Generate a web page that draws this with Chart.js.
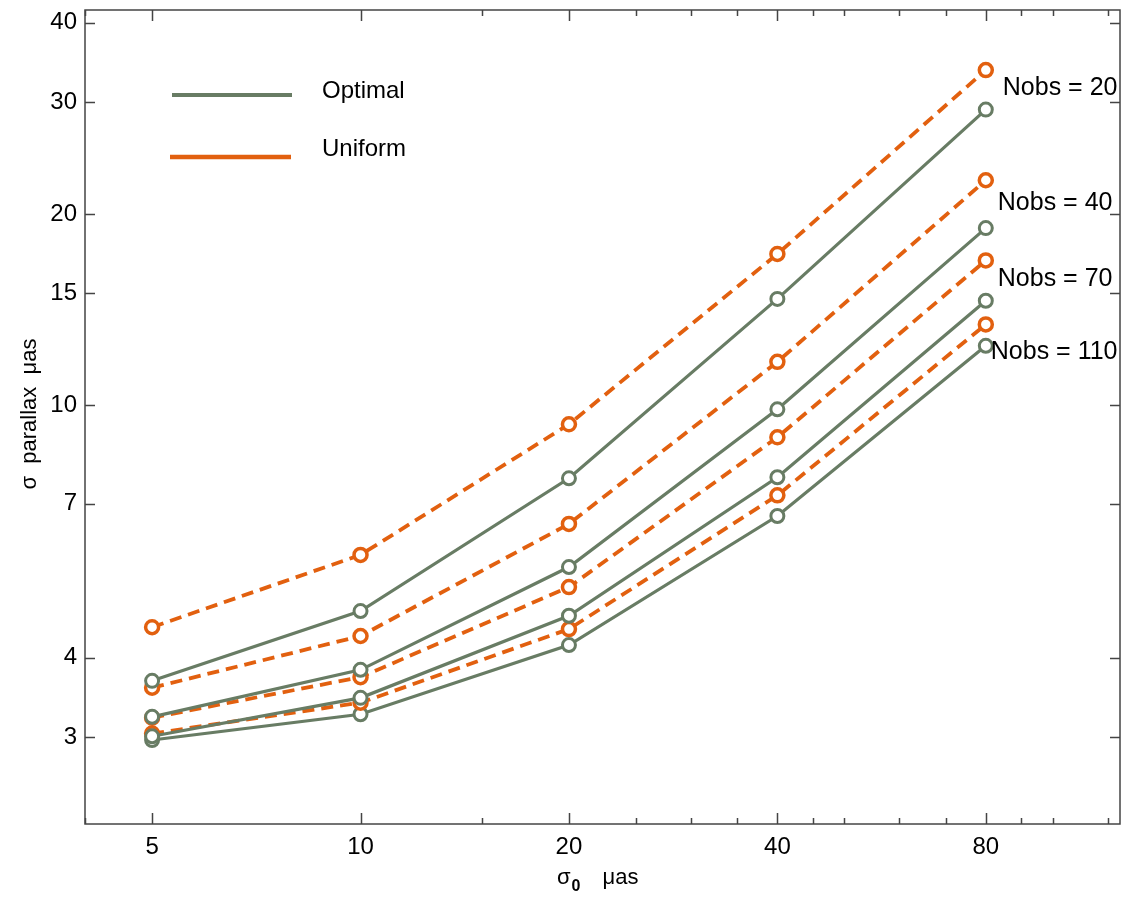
<!DOCTYPE html>
<html>
<head>
<meta charset="utf-8">
<script src="https://cdn.jsdelivr.net/npm/chart.js@4.4.0/dist/chart.umd.min.js"></script>
<style>
  html, body { margin: 0; padding: 0; background: #fff; }
  canvas { display: block; }
</style>
</head>
<body>
<canvas id="chart" width="1133" height="898"></canvas>
<script>
// ── Datos ──
const sigma0 = [5, 10, 20, 40, 80];
const nobsList = [20, 40, 70, 110];

const optimal20  = [3.68, 4.74, 7.67, 14.7, 29.2];
const uniform20  = [4.47, 5.81, 9.33, 17.3, 33.7];
const optimal40  = [3.23, 3.83, 5.56, 9.85, 19.0];
const uniform40  = [3.59, 4.33, 6.50, 11.7, 22.6];
const optimal70  = [3.01, 3.46, 4.66, 7.70, 14.6];
const uniform70  = [3.22, 3.73, 5.17, 8.90, 16.9];
const optimal110 = [2.97, 3.26, 4.19, 6.69, 12.4];
const uniform110 = [3.04, 3.40, 4.44, 7.21, 13.4];

const xTicks  = [4, 5, 10, 15, 20, 25, 30, 35, 40, 45, 50, 60, 70, 80, 90, 100, 120];
const xLabels = [5, 10, 20, 40, 80];
const yTicks  = [3, 4, 7, 10, 15, 20, 30, 40];
const nobsLabelY = [30.8, 20.3, 15.4, 11.8];

const GREEN  = '#687c64';
const ORANGE = '#e2600f';
const AXIS   = '#444';
const FONT   = "'Liberation Sans', Arial, sans-serif";

Chart.defaults.font.family = FONT;
Chart.defaults.color = '#000';

const toXY = arr => sigma0.map((x, i) => ({ x, y: arr[i] }));

function optimalSet(arr) {
  return {
    data: toXY(arr),
    borderColor: GREEN,
    borderWidth: 3.2,
    pointRadius: 6.5,
    pointBorderWidth: 3,
    pointBorderColor: GREEN,
    pointBackgroundColor: '#fff',
    fill: false,
    tension: 0
  };
}
function uniformSet(arr) {
  return {
    data: toXY(arr),
    borderColor: ORANGE,
    borderWidth: 3.8,
    borderDash: [12, 7],
    pointRadius: 6.5,
    pointBorderWidth: 3.5,
    pointBorderColor: ORANGE,
    pointBackgroundColor: '#fff',
    fill: false,
    tension: 0
  };
}

// ── Marco, ticks interiores, leyenda y textos ──
const framePlugin = {
  id: 'frame',
  beforeDatasetsDraw(chart) {
    const { ctx, chartArea: a, scales: { x, y } } = chart;
    ctx.save();
    ctx.strokeStyle = AXIS;
    ctx.lineWidth = 1.5;
    ctx.strokeRect(a.left, a.top, a.right - a.left, a.bottom - a.top);
    ctx.beginPath();
    xTicks.forEach(v => {
      const px = Math.round(x.getPixelForValue(v)) + 0.5;
      const len = xLabels.includes(v) ? 11 : 6;
      ctx.moveTo(px, a.bottom); ctx.lineTo(px, a.bottom - len);
      ctx.moveTo(px, a.top);    ctx.lineTo(px, a.top + len);
    });
    yTicks.forEach(v => {
      const py = Math.round(y.getPixelForValue(v)) + 0.5;
      ctx.moveTo(a.left, py);  ctx.lineTo(a.left + 10, py);
      ctx.moveTo(a.right, py); ctx.lineTo(a.right - 10, py);
    });
    ctx.stroke();
    ctx.restore();
  },
  afterDraw(chart) {
    const { ctx, scales: { x, y } } = chart;
    ctx.save();

    // leyenda
    ctx.lineWidth = 4;
    ctx.strokeStyle = GREEN;
    ctx.beginPath(); ctx.moveTo(172, 95); ctx.lineTo(292, 95); ctx.stroke();
    ctx.lineWidth = 4.5;
    ctx.strokeStyle = ORANGE;
    ctx.beginPath(); ctx.moveTo(170, 157); ctx.lineTo(291, 157); ctx.stroke();
    ctx.fillStyle = '#000';
    ctx.font = `24px ${FONT}`;
    ctx.textBaseline = 'alphabetic';
    ctx.textAlign = 'left';
    ctx.fillText('Optimal', 322, 98);
    ctx.fillText('Uniform', 322, 156);

    // etiquetas Nobs
    const dx = [17, 12, 12, 5];
    ctx.font = `25px ${FONT}`;
    nobsList.forEach((n, i) => {
      const px = x.getPixelForValue(80) + dx[i];
      const py = y.getPixelForValue(nobsLabelY[i]);
      ctx.fillText(`Nobs = ${n}`, px, py);
    });

    // título eje y
    ctx.save();
    ctx.translate(36, 414);
    ctx.rotate(-Math.PI / 2);
    ctx.textAlign = 'center';
    ctx.font = `22px ${FONT}`;
    ctx.fillText('\u03C3  parallax  \u03BCas', 0, 0);
    ctx.restore();

    // título eje x: σ₀ μas
    ctx.textAlign = 'left';
    ctx.font = `22px ${FONT}`;
    const bx = 557, by = 884;
    ctx.fillText('\u03C3', bx, by);
    const sw = ctx.measureText('\u03C3').width;
    ctx.font = `bold 16px ${FONT}`;
    ctx.fillText('0', bx + sw + 1, by + 7);
    ctx.font = `22px ${FONT}`;
    ctx.fillText('\u03BCas', bx + sw + 32, by);

    ctx.restore();
  }
};

new Chart(document.getElementById('chart'), {
  type: 'line',
  data: {
    datasets: [
      uniformSet(uniform20),  optimalSet(optimal20),
      uniformSet(uniform40),  optimalSet(optimal40),
      uniformSet(uniform70),  optimalSet(optimal70),
      uniformSet(uniform110), optimalSet(optimal110)
    ]
  },
  options: {
    responsive: false,
    animation: false,
    events: [],
    layout: { padding: { top: 9, right: 13, left: 0, bottom: 0 } },
    plugins: {
      legend: { display: false },
      tooltip: { enabled: false }
    },
    scales: {
      x: {
        type: 'logarithmic',
        min: 4,
        max: 125,
        grid: { display: false, drawTicks: false },
        border: { display: false },
        afterBuildTicks: s => { s.ticks = xTicks.map(v => ({ value: v })); },
        afterFit: s => { s.height = 74; s.paddingLeft = 0; s.paddingRight = 0; },
        ticks: {
          autoSkip: false,
          maxRotation: 0,
          padding: 9,
          color: '#000',
          font: { size: 24 },
          callback: v => xLabels.includes(v) ? String(v) : ''
        }
      },
      y: {
        type: 'logarithmic',
        min: 2.19,
        max: 41.9,
        grid: { display: false, drawTicks: false },
        border: { display: false },
        afterBuildTicks: s => { s.ticks = yTicks.map(v => ({ value: v })); },
        afterFit: s => { s.width = 85; s.paddingTop = 0; s.paddingBottom = 0; },
        ticks: {
          autoSkip: false,
          padding: 8,
          color: '#000',
          font: { size: 24 },
          callback: v => yTicks.includes(v) ? String(v) : ''
        }
      }
    }
  },
  plugins: [framePlugin]
});
</script>
</body>
</html>
